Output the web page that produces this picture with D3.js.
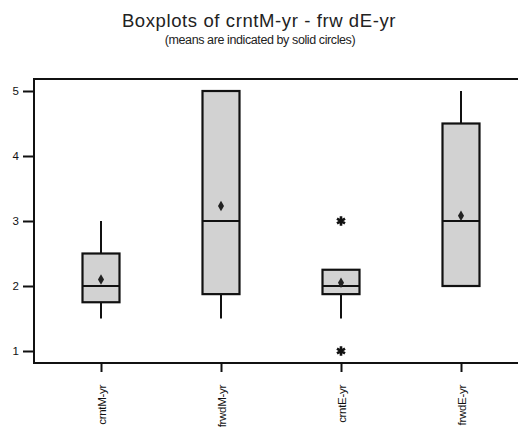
<!DOCTYPE html>
<html>
<head>
  <title>Boxplots</title>
  <script src="https://d3js.org/d3.v7.min.js"></script>
  <style>
    body { margin: 0; background: #fff; }
    svg { display: block; font-family: "Liberation Sans", Arial, sans-serif; }
  </style>
</head>
<body>
  <div id="chart"></div>
  <script>
    // values
    const categories = ["crntM-yr", "frwdM-yr", "crntE-yr", "frwdE-yr"];
    const q1 = [1.75, 1.875, 1.875, 2];
    const median = [2, 3, 2, 3];
    const q3 = [2.5, 5, 2.25, 4.5];
    const whiskerLow = [1.5, 1.5, 1.5, 2];
    const whiskerHigh = [3, 5, 2.25, 5];
    const means = [2.1, 3.23, 2.05, 3.08];
    const outliers = [[], [], [3, 1], []];
    const yTicks = [1, 2, 3, 4, 5];

    const width = 518, height = 430;
    const frame = { left: 34, top: 79, bottom: 363 };

    const svg = d3.select("#chart")
      .append("svg")
      .attr("width", width)
      .attr("height", height);

    const y = d3.scaleLinear()
      .domain([1, 5])
      .range([351, 91]);

    const x = d3.scalePoint()
      .domain(categories)
      .range([101, 461]);

    const boxW = 37;

    // titles
    svg.append("text")
      .attr("x", 259)
      .attr("y", 27)
      .attr("text-anchor", "middle")
      .attr("font-size", 18.5)
      .attr("font-weight", "normal")
      .attr("letter-spacing", 0.6)
      .attr("fill", "#222")
      .text("Boxplots of crntM-yr - frw dE-yr");

    svg.append("text")
      .attr("x", 260)
      .attr("y", 44)
      .attr("text-anchor", "middle")
      .attr("font-size", 12.5)
      .attr("letter-spacing", -0.4)
      .attr("fill", "#222")
      .text("(means are indicated by solid circles)");

    // frame (left, top, bottom; right side runs off the picture)
    svg.append("path")
      .attr("d", `M${width + 5},${frame.top}H${frame.left}V${frame.bottom}H${width + 5}`)
      .attr("fill", "none")
      .attr("stroke", "#111")
      .attr("stroke-width", 2);

    // y axis
    const yAxis = svg.append("g")
      .attr("transform", `translate(${frame.left},0)`)
      .call(d3.axisLeft(y).tickValues(yTicks).tickFormat(d3.format("d")).tickSize(11).tickPadding(4));
    yAxis.select(".domain").remove();
    yAxis.selectAll("line").attr("stroke", "#111").attr("stroke-width", 2);
    yAxis.selectAll("text").attr("font-size", 11.5).attr("fill", "#111");

    // x axis
    const xAxis = svg.append("g")
      .attr("transform", `translate(0,${frame.bottom})`)
      .call(d3.axisBottom(x).tickSize(9).tickPadding(0));
    xAxis.select(".domain").remove();
    xAxis.selectAll("line").attr("stroke", "#111").attr("stroke-width", 2);
    xAxis.selectAll("text")
      .attr("font-size", 11.5)
      .attr("fill", "#111")
      .attr("letter-spacing", -0.3)
      .attr("text-anchor", "end")
      .attr("transform", "rotate(-90)")
      .attr("x", -22)
      .attr("y", 0)
      .attr("dy", "0.35em");

    const data = categories.map((c, i) => ({
      cat: c, q1: q1[i], med: median[i], q3: q3[i],
      lo: whiskerLow[i], hi: whiskerHigh[i], mean: means[i], out: outliers[i]
    }));

    const g = svg.append("g");

    // whiskers
    g.selectAll(".wlo")
      .data(data.filter(d => d.lo < d.q1))
      .enter().append("line")
      .attr("x1", d => x(d.cat)).attr("x2", d => x(d.cat))
      .attr("y1", d => y(d.q1)).attr("y2", d => y(d.lo))
      .attr("stroke", "#111").attr("stroke-width", 2);

    g.selectAll(".whi")
      .data(data.filter(d => d.hi > d.q3))
      .enter().append("line")
      .attr("x1", d => x(d.cat)).attr("x2", d => x(d.cat))
      .attr("y1", d => y(d.q3)).attr("y2", d => y(d.hi))
      .attr("stroke", "#111").attr("stroke-width", 2);

    // boxes
    g.selectAll(".box")
      .data(data)
      .enter().append("rect")
      .attr("x", d => x(d.cat) - boxW / 2)
      .attr("y", d => y(d.q3))
      .attr("width", boxW)
      .attr("height", d => y(d.q1) - y(d.q3))
      .attr("fill", "#d2d2d2")
      .attr("stroke", "#111")
      .attr("stroke-width", 2.2);

    // medians
    g.selectAll(".med")
      .data(data)
      .enter().append("line")
      .attr("x1", d => x(d.cat) - boxW / 2).attr("x2", d => x(d.cat) + boxW / 2)
      .attr("y1", d => y(d.med)).attr("y2", d => y(d.med))
      .attr("stroke", "#111").attr("stroke-width", 2);

    // means
    g.selectAll(".mean")
      .data(data)
      .enter().append("path")
      .attr("transform", d => `translate(${x(d.cat)},${y(d.mean)})`)
      .attr("d", d3.symbol(d3.symbolDiamond, 32))
      .attr("fill", "#222");

    // outliers
    const outPts = data.flatMap(d => d.out.map(v => ({ cat: d.cat, v })));
    g.selectAll(".out")
      .data(outPts)
      .enter().append("path")
      .attr("transform", d => `translate(${x(d.cat)},${y(d.v)})`)
      .attr("d", d3.symbol(d3.symbolAsterisk, 60))
      .attr("fill", "none")
      .attr("stroke", "#111")
      .attr("stroke-width", 2.6);
  </script>
</body>
</html>
